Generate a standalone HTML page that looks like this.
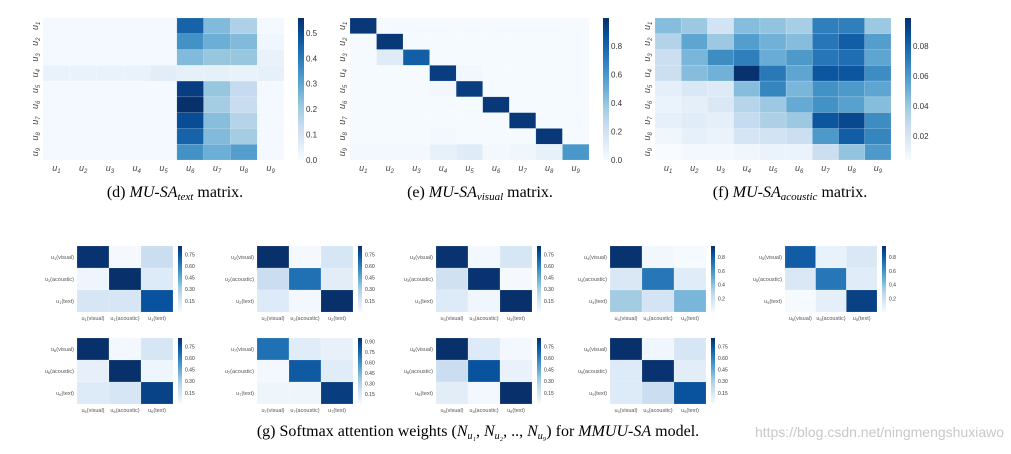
<!DOCTYPE html>
<html><head><meta charset="utf-8"><style>
body{margin:0;background:#fff;width:1011px;height:454px;overflow:hidden}
svg{display:block}
</style></head><body>
<svg id="fig" width="1011" height="454" xmlns="http://www.w3.org/2000/svg" font-family="Liberation Sans, sans-serif">
<defs><linearGradient id="blues" x1="0" y1="1" x2="0" y2="0">
<stop offset="0" stop-color="#f7fbff"/><stop offset="0.125" stop-color="#deebf7"/><stop offset="0.25" stop-color="#c6dbef"/><stop offset="0.375" stop-color="#9ecae1"/><stop offset="0.5" stop-color="#6baed6"/><stop offset="0.625" stop-color="#4292c6"/><stop offset="0.75" stop-color="#2171b5"/><stop offset="0.875" stop-color="#08519c"/><stop offset="1" stop-color="#08306b"/></linearGradient></defs>
<text x="175" y="197" text-anchor="middle" font-family="Liberation Serif, serif" font-size="16">(d) <tspan font-style="italic">MU-SA</tspan><tspan font-style="italic" font-size="11" dy="3">text</tspan><tspan dy="-3"> matrix.</tspan></text>
<text x="480" y="197" text-anchor="middle" font-family="Liberation Serif, serif" font-size="16">(e) <tspan font-style="italic">MU-SA</tspan><tspan font-style="italic" font-size="11" dy="3">visual</tspan><tspan dy="-3"> matrix.</tspan></text>
<text x="790" y="197" text-anchor="middle" font-family="Liberation Serif, serif" font-size="16">(f) <tspan font-style="italic">MU-SA</tspan><tspan font-style="italic" font-size="11" dy="3">acoustic</tspan><tspan dy="-3"> matrix.</tspan></text>
<text x="478" y="436" text-anchor="middle" font-family="Liberation Serif, serif" font-size="16">(g) Softmax attention weights (<tspan font-style="italic">N</tspan><tspan font-style="italic" font-size="10" dy="3">u₁</tspan><tspan dy="-3">, </tspan><tspan font-style="italic">N</tspan><tspan font-style="italic" font-size="10" dy="3">u₂</tspan><tspan dy="-3">, .., </tspan><tspan font-style="italic">N</tspan><tspan font-style="italic" font-size="10" dy="3">u₉</tspan><tspan dy="-3">) for </tspan><tspan font-style="italic">MMUU-SA</tspan> model.</text>
<text x="1004" y="437" text-anchor="end" font-size="14" fill="#c8c8c8">https://blog.csdn.net/ningmengshuxiawo</text>
</svg>
<script>
const textMatrix=[[.01,.01,.01,.01,.01,.45,.25,.18,.01],[.01,.01,.01,.01,.01,.35,.28,.25,.02],[.01,.01,.01,.01,.01,.25,.22,.22,.04],[.04,.04,.04,.04,.06,.05,.05,.04,.05],[.01,.01,.01,.01,.01,.53,.22,.14,.01],[.01,.01,.01,.01,.01,.56,.2,.13,.01],[.01,.01,.01,.01,.01,.5,.24,.17,.01],[.01,.01,.01,.01,.01,.45,.25,.2,.01],[.01,.01,.01,.01,.01,.35,.28,.32,.01]];
const visualMatrix=[[.97,.01,.01,.01,.01,.01,.01,.01,.01],[.01,.97,.01,.01,.01,.01,.01,.01,.01],[.01,.12,.82,.01,.01,.01,.01,.01,.01],[.01,.01,.01,.95,.03,.01,.01,.01,.01],[.01,.01,.01,.03,.95,.01,.01,.01,.01],[.01,.01,.01,.01,.01,.97,.01,.01,.01],[.01,.01,.01,.01,.01,.01,.97,.01,.01],[.01,.01,.01,.02,.01,.01,.01,.97,.01],[.02,.02,.02,.08,.12,.02,.04,.08,.6]];
const acousticMatrix=[[.045,.04,.022,.045,.042,.037,.07,.07,.04],[.033,.055,.04,.058,.05,.045,.073,.082,.058],[.025,.048,.065,.07,.052,.06,.073,.076,.055],[.025,.045,.05,.098,.072,.055,.085,.085,.065],[.013,.018,.016,.045,.068,.048,.063,.06,.055],[.01,.013,.018,.032,.04,.053,.063,.057,.045],[.012,.015,.013,.028,.035,.04,.085,.09,.065],[.008,.012,.01,.02,.022,.025,.06,.082,.068],[.004,.006,.006,.008,.01,.01,.025,.042,.06]];
const textTicks=[0,.1,.2,.3,.4,.5];
const visualTicks=[0,.2,.4,.6,.8];
const acousticTicks=[.02,.04,.06,.08];
const smallMatrices=[
[[.85,.02,.2],[.05,.9,.12],[.15,.15,.75]],
[[.88,.02,.15],[.2,.65,.1],[.12,.03,.9]],
[[.85,.03,.15],[.18,.85,.02],[.12,.04,.9]],
[[.95,.04,.02],[.15,.7,.12],[.35,.18,.45]],
[[.8,.08,.15],[.15,.7,.12],[.02,.1,.9]],
[[.88,.03,.15],[.08,.9,.05],[.12,.15,.8]],
[[.72,.12,.08],[.03,.8,.12],[.05,.05,.9]],
[[.9,.12,.03],[.2,.75,.07],[.1,.03,.88]],
[[.9,.04,.15],[.12,.85,.1],[.12,.2,.75]]];
const smallTicksA=[.15,.30,.45,.60,.75];
const smallTicksB=[.2,.4,.6,.8];
const smallTicksC=[.15,.30,.45,.60,.75,.90];
const smallLabels=['visual','acoustic','text'];

const NS='http://www.w3.org/2000/svg';
const svg=document.getElementById('fig');
const stops=[[247,251,255],[222,235,247],[198,219,239],[158,202,225],[107,174,214],[66,146,198],[33,113,181],[8,81,156],[8,48,107]];
function blues(t){t=Math.max(0,Math.min(1,t));const p=t*8,i=Math.min(7,Math.floor(p)),f=p-i;const a=stops[i],b=stops[i+1];return 'rgb('+a.map((v,k)=>Math.round(v+(b[k]-v)*f)).join(',')+')';}
function el(tag,attrs,parent){const e=document.createElementNS(NS,tag);for(const k in attrs)e.setAttribute(k,attrs[k]);(parent||svg).appendChild(e);return e;}

function heatmap(name,m,x0,y0,w,h,vmin,vmax,ticks,cbx,fs,dec,labelFn,rowLabelFn,rotate){
  const g=el('g',{});
  
  
  const n=m.length,c=m[0].length,cw=w/c,ch=h/n;
  const sx=j=>x0+j*cw, sy=i=>y0+i*ch;
  m.forEach((row,i)=>row.forEach((v,j)=>{
    const r=el('rect',{x:sx(j),y:sy(i),width:cw,height:ch,fill:blues((v-vmin)/(vmax-vmin)),stroke:'rgba(255,255,255,0.25)','stroke-width':0.5},g);
    
    
  }));
  const cb=el('rect',{x:cbx,y:y0,width:fs>6?6:4,height:h,fill:'url(#blues)'},g);
  
  
  const cy=v=>y0+h-(v-vmin)/(vmax-vmin)*h;
  ticks.forEach(t=>{
    const tx=el('text',{x:cbx+(fs>6?8:7),y:cy(t)+fs*0.35,'font-size':fs,fill:'#333'},g);
    tx.textContent=t.toFixed(dec);
    
    
  });
  for(let j=0;j<c;j++){labelFn(g,sx(j)+cw/2,y0+h,j);}
  for(let i=0;i<n;i++){rowLabelFn(g,x0,sy(i)+ch/2,i);}
}
function uLabelX(g,x,y,j){const t=el('text',{x:x,y:y+11,'text-anchor':'middle','font-size':9,'font-style':'italic',fill:'#444'},g);t.innerHTML='u<tspan font-size="6" dy="2">'+(j+1)+'</tspan>';}
function uLabelY(off){return function(g,x,y,i){const t=el('text',{x:0,y:0,'text-anchor':'middle','font-size':9,'font-style':'italic',fill:'#444',transform:'translate('+(x-off)+','+y+') rotate(-90)'},g);t.innerHTML='u<tspan font-size="6" dy="2">'+(i+1)+'</tspan>';};}

heatmap('heatmap-text',textMatrix,43,18,241,142,0,0.56,textTicks,298,8,1,uLabelX,uLabelY(5));
heatmap('heatmap-visual',visualMatrix,350,18,239,142,0,1.0,visualTicks,603,8,1,uLabelX,uLabelY(5));
heatmap('heatmap-acoustic',acousticMatrix,655,18,236,142,0.004,0.0987,acousticTicks,905,8,2,uLabelX,uLabelY(5));

const pos=[[77,246],[257,246],[436,246],[610,246],[785,246],[77,338],[257,338],[436,338],[610,338]];
smallMatrices.forEach((m,k)=>{
  const [x,y]=pos[k];
  const w=(k===4?92:96);
  let ticks=smallTicksA,vmax=.86,vmin=.01,dec=2;
  if(k===3||k===4){ticks=smallTicksB;vmax=.96;dec=1;}
  if(k===6){ticks=smallTicksC;vmax=.95;}
  const colLab=(g,cx,cy,j)=>{const t=el('text',{x:cx,y:cy+8,'text-anchor':'middle','font-size':5.5,fill:'#555'},g);t.innerHTML='u<tspan font-size="4" dy="1">'+(k+1)+'</tspan><tspan dy="-1">('+smallLabels[j]+')</tspan>';};
  const rowLab=(g,cx,cy,i)=>{const t=el('text',{x:cx-3,y:cy+2,'text-anchor':'end','font-size':5.5,fill:'#555'},g);t.innerHTML='u<tspan font-size="4" dy="1">'+(k+1)+'</tspan><tspan dy="-1">('+smallLabels[i]+')</tspan>';};
  heatmap('attention-u'+(k+1),m,x,y,w,66,vmin,vmax,ticks,x+w+5,5,dec,colLab,rowLab);
});
</script>
</body></html>
